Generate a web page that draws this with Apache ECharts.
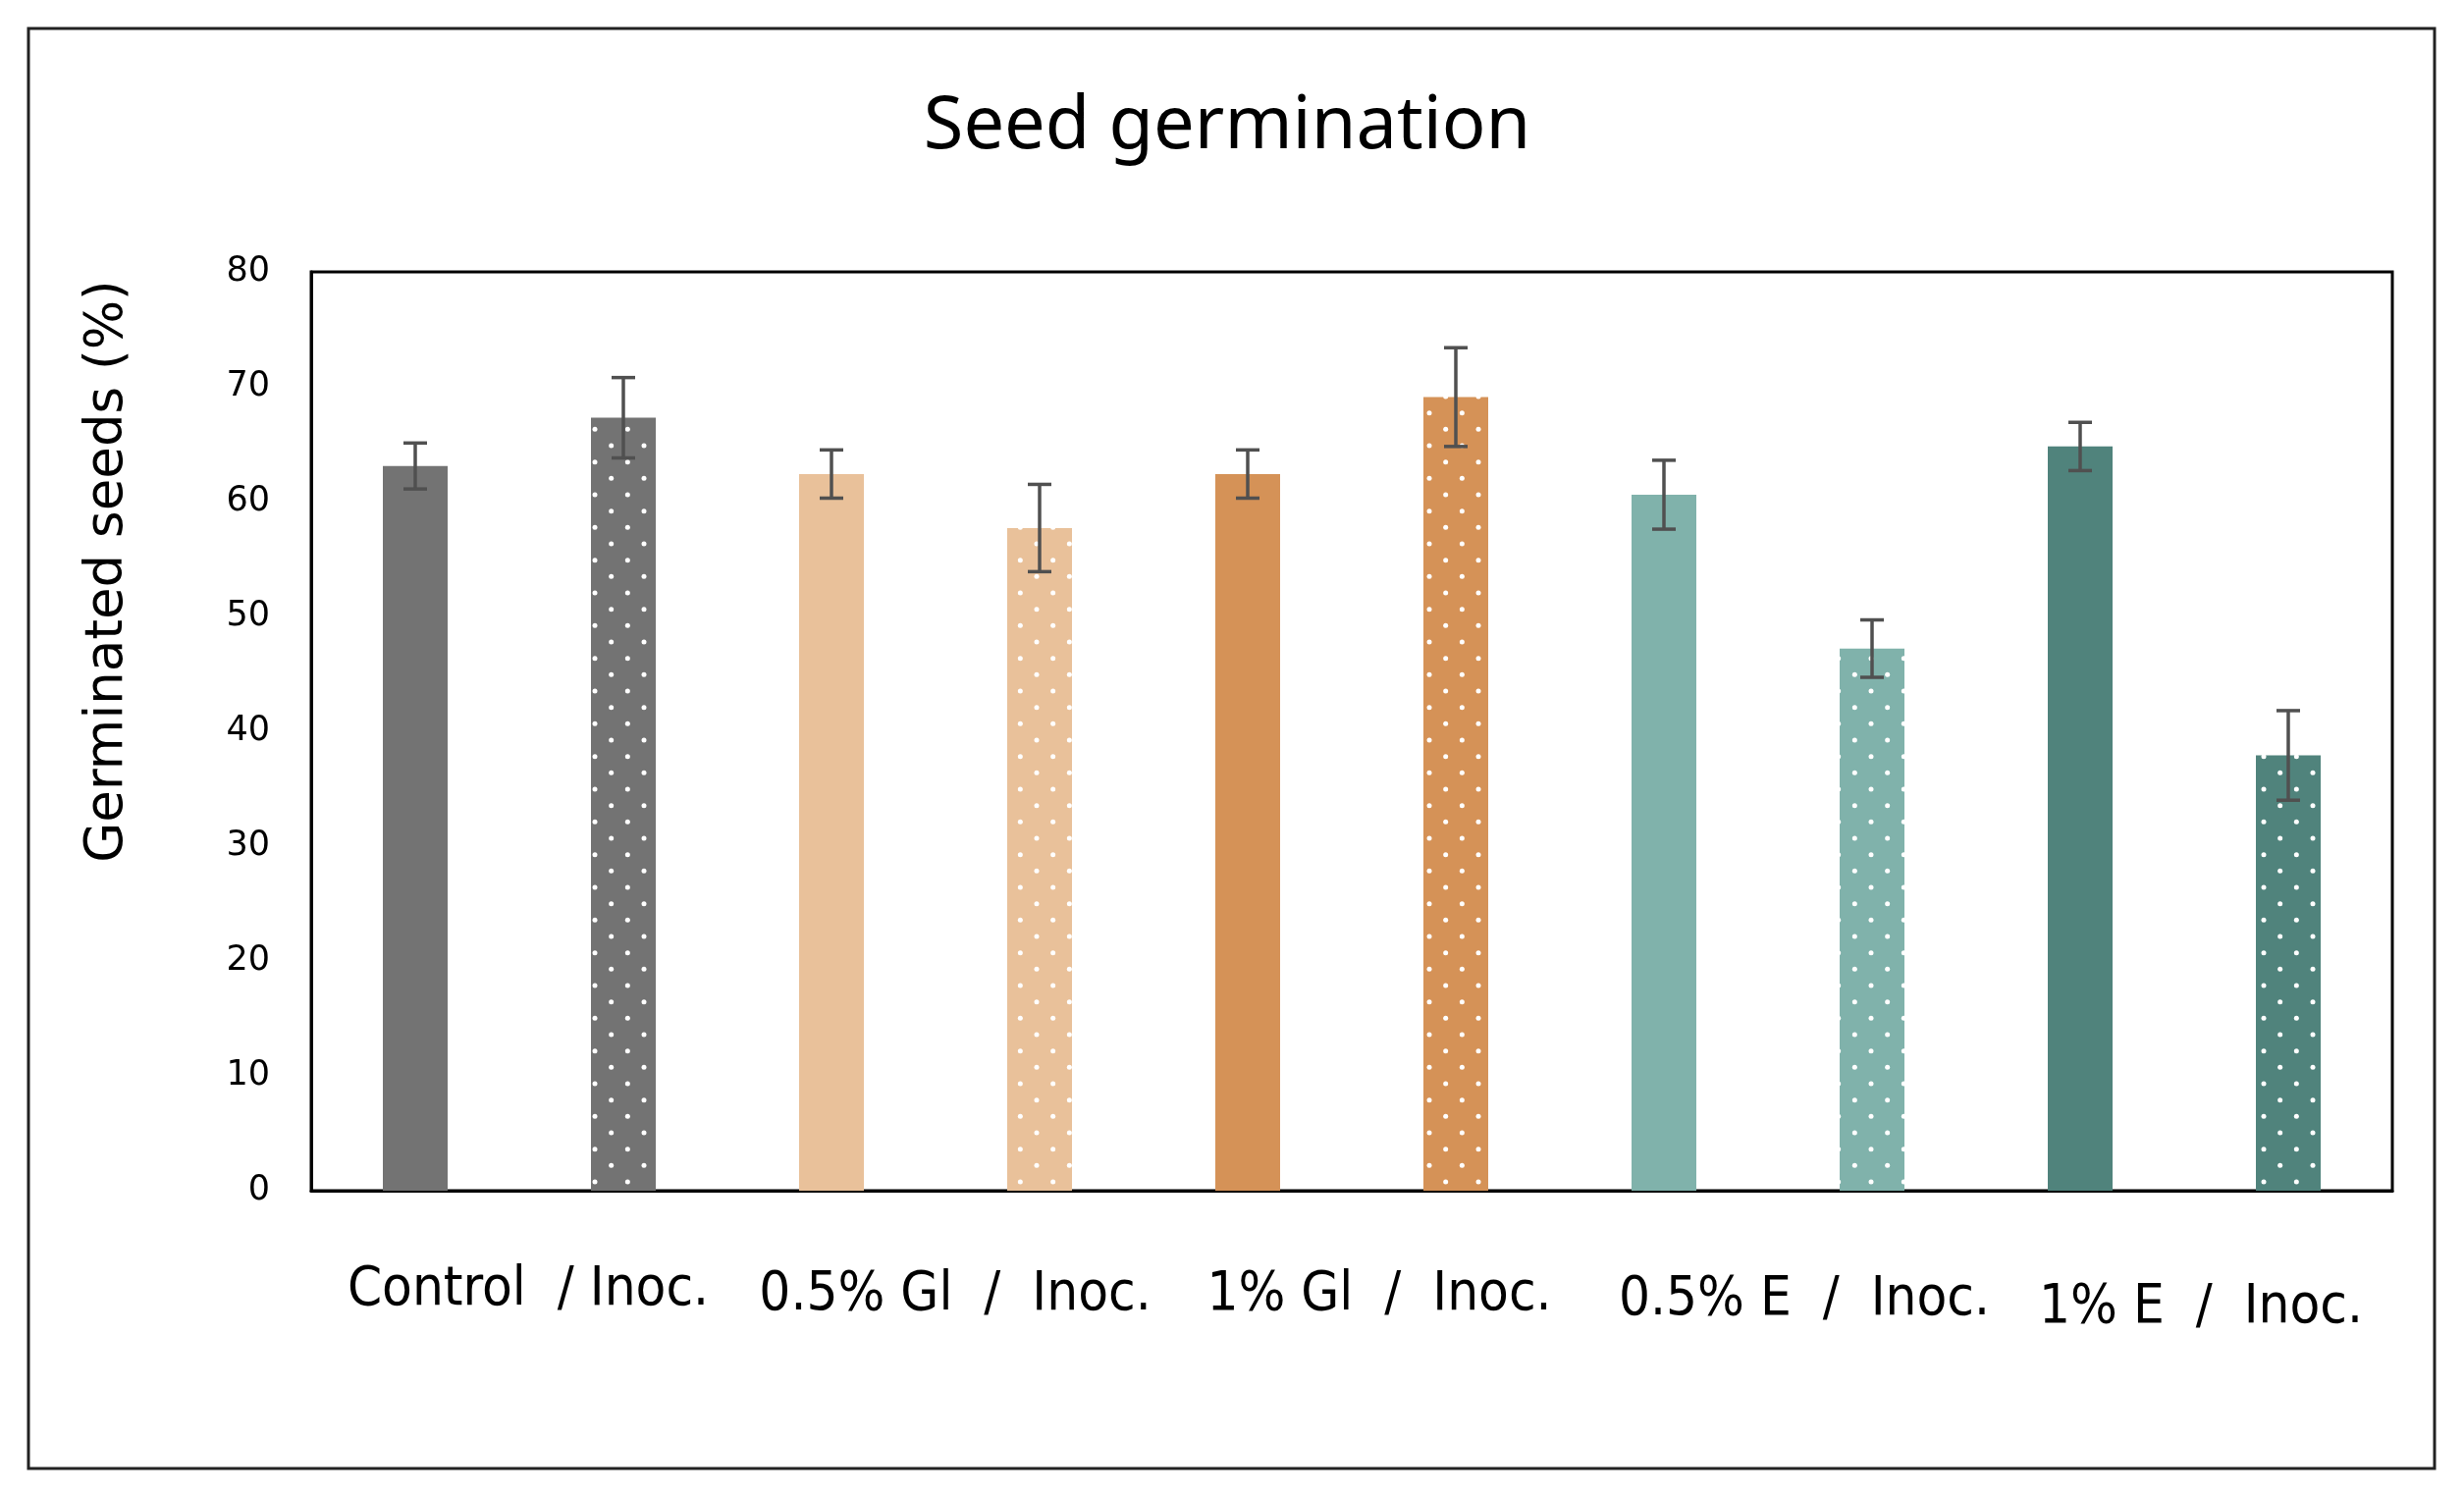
<!DOCTYPE html>
<html>
<head>
<meta charset="utf-8">
<title>Seed germination</title>
<script src="https://cdn.jsdelivr.net/npm/echarts@6/dist/echarts.min.js"></script>
<style>
  html, body { margin: 0; padding: 0; background: #fff; }
  #main { width: 2510px; height: 1522px; }
</style>
</head>
<body>
<div id="main"></div>
<script>
// data
var treatments = ['Control', 'Control Inoc.', '0.5% Gl', '0.5% Gl Inoc.', '1% Gl', '1% Gl Inoc.',
                  '0.5% E', '0.5% E Inoc.', '1% E', '1% E Inoc.'];
var groupLabels = ['Control  / Inoc.', '0.5% Gl  /  Inoc.', '1% Gl  /  Inoc.', '0.5% E  /  Inoc.', '1% E  /  Inoc.'];
var germinated = [63.1, 67.3, 62.4, 57.7, 62.4, 69.1, 60.6, 47.2, 64.8, 37.9];
var errors = [2.0, 3.5, 2.1, 3.8, 2.1, 4.3, 3.0, 2.5, 2.1, 3.9];
var inoculated = [false, true, false, true, false, true, false, true, false, true];
var baseColors = ['#737373', '#737373', '#E9C19A', '#E9C19A', '#D59257', '#D59257',
                  '#80B2AB', '#80B2AB', '#50837C', '#50837C'];

window.onload = function() {

	var myChart = echarts.init(document.getElementById('main'));

	// dotted fill for the inoculated bars
	function dots(color) {
		var c = document.createElement('canvas');
		c.width = 100;
		c.height = 100;
		var ctx = c.getContext('2d');
		ctx.fillStyle = color;
		ctx.fillRect(0, 0, 100, 100);
		ctx.fillStyle = '#ffffff';
		var step = 100 / 3;
		for (var i = 0; i < 3; i++) {
			for (var j = 0; j < 3; j++) {
				ctx.beginPath();
				ctx.arc(i * step + 6, j * step + 4, 2.5, 0, Math.PI * 2);
				ctx.fill();
				ctx.beginPath();
				ctx.arc(i * step + 6 + step / 2, j * step + 4 + step / 2, 2.5, 0, Math.PI * 2);
				ctx.fill();
			}
		}
		return { image: c, repeat: 'repeat' };
	}

	var barData = germinated.map(function(v, i) {
		return {
			value: v,
			itemStyle: { color: inoculated[i] ? dots(baseColors[i]) : baseColors[i] }
		};
	});

	var errData = germinated.map(function(v, i) {
		return [i, v - errors[i], v + errors[i]];
	});

	// small offsets of the hand placed group labels (top, left)
	var labelShift = [[0, 18], [5, 40], [5, 56], [10, 74], [18, 34]];
	var groupData = groupLabels.map(function(s, i) {
		return {
			value: s,
			textStyle: { padding: [labelShift[i][0], 0, 0, labelShift[i][1]] }
		};
	});

	var option = {
		backgroundColor: '#fff',
		animation: false,
		title: {
			text: 'Seed germination',
			left: 1245,
			textAlign: 'center',
			top: 88,
			textStyle: {
				fontFamily: 'Noto Sans',
				fontSize: 74,
				fontWeight: 'normal',
				color: '#000'
			}
		},
		graphic: [{
			type: 'rect',
			shape: { x: 29, y: 29, width: 2451, height: 1467 },
			style: { fill: null, stroke: '#222', lineWidth: 3 },
			silent: true
		}],
		grid: {
			left: 317,
			right: 73,
			top: 277,
			bottom: 309,
			show: true,
			borderColor: '#000',
			borderWidth: 3,
			backgroundColor: 'transparent'
		},
		xAxis: [{
			type: 'category',
			data: treatments,
			axisLine: { show: true, lineStyle: { color: '#000', width: 3 } },
			axisTick: { show: false },
			axisLabel: { show: false }
		}, {
			type: 'category',
			data: groupData,
			position: 'bottom',
			axisLine: { show: false },
			axisTick: { show: false },
			axisLabel: {
				interval: 0,
				margin: 73,
				fontFamily: 'Liberation Sans Narrow, DejaVu Sans Condensed, sans-serif',
				fontSize: 56,
				color: '#000'
			}
		}],
		yAxis: {
			type: 'value',
			min: 0,
			max: 80,
			interval: 10,
			name: 'Germinated seeds (%)',
			nameLocation: 'middle',
			nameGap: 180,
			nameRotate: 90,
			nameTextStyle: {
				fontFamily: 'DejaVu Sans',
				fontSize: 53,
				color: '#000',
				padding: [0, 0, 0, 326]
			},
			splitLine: { show: false },
			axisLine: { show: true, lineStyle: { color: '#000', width: 3 } },
			axisTick: { show: false },
			axisLabel: {
				margin: 42,
				fontFamily: 'DejaVu Sans',
				fontSize: 35,
				color: '#000'
			}
		},
		series: [{
			name: 'Germinated seeds',
			type: 'bar',
			xAxisIndex: 0,
			barWidth: 66,
			data: barData
		}, {
			name: 'SE',
			type: 'custom',
			xAxisIndex: 0,
			data: errData,
			z: 10,
			renderItem: function(params, api) {
				var x = api.value(0);
				var lo = api.coord([x, api.value(1)]);
				var hi = api.coord([x, api.value(2)]);
				var w = 12;
				var st = { stroke: '#505050', lineWidth: 3.5 };
				return {
					type: 'group',
					children: [
						{ type: 'line', shape: { x1: hi[0], y1: hi[1], x2: lo[0], y2: lo[1] }, style: st },
						{ type: 'line', shape: { x1: hi[0] - w, y1: hi[1], x2: hi[0] + w, y2: hi[1] }, style: st },
						{ type: 'line', shape: { x1: lo[0] - w, y1: lo[1], x2: lo[0] + w, y2: lo[1] }, style: st }
					]
				};
			}
		}]
	};

	myChart.setOption(option);

}
</script>
</body>
</html>
